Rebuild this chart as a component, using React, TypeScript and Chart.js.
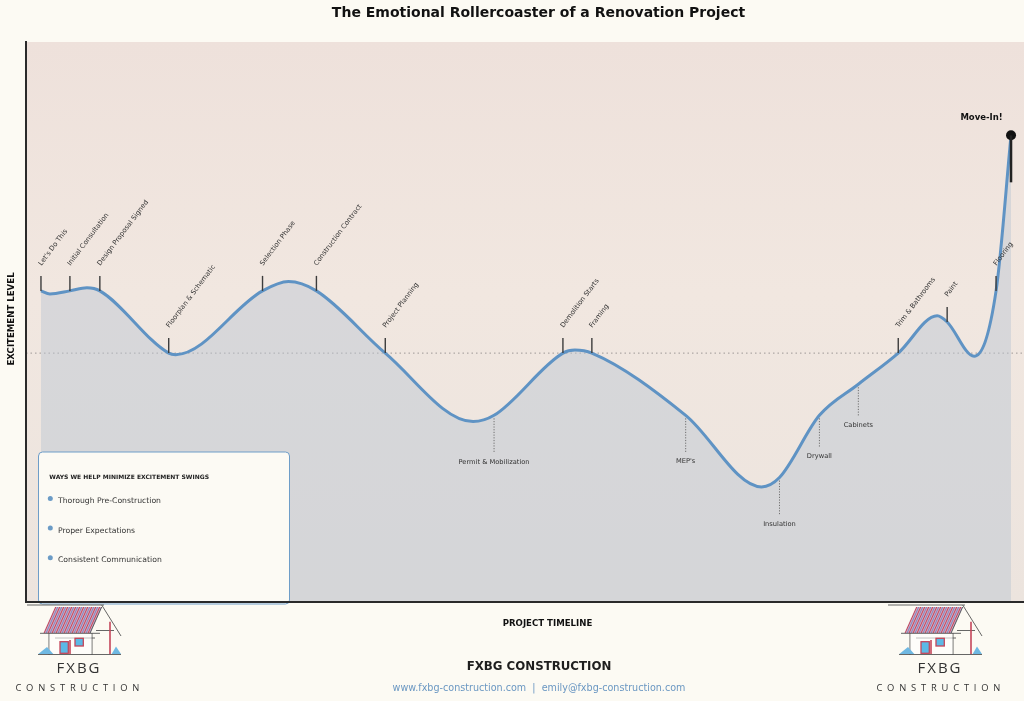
import React, { useEffect, useRef } from "react";
import { Chart, registerables } from "chart.js";

Chart.register(...registerables);

// ---------- data ----------
const chartTitle = "The Emotional Rollercoaster of a Renovation Project";
const yAxisTitle = "EXCITEMENT LEVEL";
const xAxisTitle = "PROJECT TIMELINE";

const milestones = [
  "Let's Do This",
  "Initial Consultation",
  "Design Proposal Signed",
  "Floorplan & Schematic",
  "Selection Phase",
  "Construction Contract",
  "Project Planning",
  "Permit & Mobilization",
  "Demolition Starts",
  "Framing",
  "MEP's",
  "Insulation",
  "Drywall",
  "Cabinets",
  "Trim & Bathrooms",
  "Paint",
  "Flooring",
  "Move-In!",
];
const milestoneWeek = [1.5, 4.4, 7.4, 14.3, 23.7, 29.1, 36.0, 46.9, 53.8, 56.7, 66.1, 75.5, 79.5, 83.4, 87.4, 92.3, 97.2, 98.7];
const milestoneLevel = [2, 2, 2, 0, 2, 2, 0, -2, 0, 0, -2, -4, -2, -1, 0, 1, 2, 7];
const belowCurveLabels = ["Permit & Mobilization", "MEP's", "Insulation", "Drywall", "Cabinets"];
const finalMilestone = "Move-In!";

// turning points of the curve between milestones
const bendWeek = [2.4, 6.1, 15.0, 26.3, 44.8, 55.0, 73.7, 91.3, 95.0];
const bendLevel = [1.9, 2.1, -0.05, 2.3, -2.2, 0.1, -4.3, 1.2, -0.1];

const legendTitle = "WAYS WE HELP MINIMIZE EXCITEMENT SWINGS";
const legendItems = ["Thorough Pre-Construction", "Proper Expectations", "Consistent Communication"];
const footerName = "FXBG CONSTRUCTION";
const footerContact = "www.fxbg-construction.com  |  emily@fxbg-construction.com";
const logoTop = "FXBG";
const logoBottom = "CONSTRUCTION";

const curvePoints = [
  ...milestoneWeek.map((x, i) => ({ x, y: milestoneLevel[i] })),
  ...bendWeek.map((x, i) => ({ x, y: bendLevel[i] })),
].sort((a, b) => a.x - b.x);

const milestonePoints = milestoneWeek.map((x, i) => ({ x, y: milestoneLevel[i] }));

// ---------- styling ----------
const FONT = '"DejaVu Sans", "Liberation Sans", sans-serif';
const LINE_BLUE = "#5f93c4";
const belowOffset: Record<string, number> = {
  "Permit & Mobilization": 47,
  "MEP's": 46,
  Insulation: 47,
  Drywall: 41,
  Cabinets: 41,
};

function drawLogo(ctx: CanvasRenderingContext2D, ox: number) {
  const X = (v: number) => v + ox;
  ctx.save();
  ctx.save();
  ctx.beginPath();
  ctx.moveTo(X(55), 607);
  ctx.lineTo(X(101.7), 607);
  ctx.lineTo(X(90), 633.3);
  ctx.lineTo(X(43.3), 633.3);
  ctx.closePath();
  ctx.fillStyle = "#cfa9bf";
  ctx.fill();
  ctx.clip();
  ctx.lineWidth = 1;
  for (let i = 0; i < 34; i++) {
    ctx.strokeStyle = i % 2 === 0 ? "#c4465a" : "#8088c4";
    const bx = X(40 + i * 2);
    ctx.beginPath();
    ctx.moveTo(bx + 11.7, 607);
    ctx.lineTo(bx, 633.3);
    ctx.stroke();
  }
  ctx.restore();
  ctx.strokeStyle = "#555";
  ctx.lineWidth = 0.9;
  const seg = (a: number, b: number, c: number, d: number) => {
    ctx.beginPath();
    ctx.moveTo(X(a), b);
    ctx.lineTo(X(c), d);
    ctx.stroke();
  };
  seg(27, 605, 104, 605);
  seg(101.7, 605, 121, 636);
  seg(101.7, 607, 90, 633.3);
  seg(40, 633.3, 100, 633.3);
  seg(96, 630.5, 114, 630.5);
  seg(49, 633, 49, 655);
  seg(92, 633, 92, 655);
  seg(38, 654.5, 121, 654.5);
  seg(55, 638, 95, 638);
  ctx.fillStyle = "rgba(255,255,255,0.6)";
  ctx.fillRect(X(49.5), 634, 42, 20);
  ctx.fillStyle = "#5cb9e6";
  ctx.fillRect(X(60), 641.7, 8.3, 11.6);
  ctx.fillRect(X(75), 638.3, 8.3, 7.7);
  ctx.strokeStyle = "#c4465a";
  ctx.lineWidth = 1.3;
  ctx.strokeRect(X(60), 641.7, 8.3, 11.6);
  ctx.strokeRect(X(75), 638.3, 8.3, 7.7);
  ctx.lineWidth = 1.6;
  seg(110, 621.7, 110, 654);
  seg(70, 640, 70, 654);
  ctx.fillStyle = "#6fb8e2";
  ctx.beginPath();
  ctx.moveTo(X(38.3), 654);
  ctx.lineTo(X(47), 647);
  ctx.lineTo(X(53.3), 654);
  ctx.closePath();
  ctx.fill();
  ctx.beginPath();
  ctx.moveTo(X(111.7), 654);
  ctx.lineTo(X(116), 646.5);
  ctx.lineTo(X(121), 654);
  ctx.closePath();
  ctx.fill();
  ctx.fillStyle = "#333";
  ctx.textAlign = "center";
  ctx.textBaseline = "middle";
  (ctx as any).letterSpacing = "2px";
  ctx.font = `15px "Open Sans", ${FONT}`;
  ctx.fillText(logoTop, X(79), 669);
  (ctx as any).letterSpacing = "4.8px";
  ctx.font = `9.4px "Open Sans", ${FONT}`;
  ctx.fillText(logoBottom, X(79.8), 688);
  (ctx as any).letterSpacing = "0px";
  ctx.restore();
}

const decorPlugin = {
  id: "decor",
  beforeDraw(chart: any) {
    const { ctx, chartArea: a, width, height } = chart;
    ctx.save();
    ctx.fillStyle = "#fcfaf3";
    ctx.fillRect(0, 0, width, height);
    const g = ctx.createLinearGradient(0, a.top, 0, a.bottom);
    g.addColorStop(0, "#eee1db");
    g.addColorStop(0.45, "#f1e7e0");
    g.addColorStop(1, "#ece4de");
    ctx.fillStyle = g;
    ctx.fillRect(a.left, a.top, a.right - a.left, a.bottom - a.top);
    const y0 = chart.scales.y.getPixelForValue(0);
    ctx.setLineDash([1.5, 3]);
    ctx.strokeStyle = "#9e9896";
    ctx.lineWidth = 1;
    ctx.beginPath();
    ctx.moveTo(a.left, y0);
    ctx.lineTo(a.right, y0);
    ctx.stroke();
    ctx.restore();
  },
  afterDatasetsDraw(chart: any) {
    const { ctx } = chart;
    const meta = chart.getDatasetMeta(1);
    ctx.save();
    milestones.forEach((name, i) => {
      const p = meta.data[i];
      const px = p.x;
      const py = p.y;
      if (name === finalMilestone) {
        ctx.strokeStyle = "#222";
        ctx.lineWidth = 2.5;
        ctx.beginPath();
        ctx.moveTo(px, py);
        ctx.lineTo(px, py + 47);
        ctx.stroke();
        ctx.fillStyle = "#111";
        ctx.font = `bold 8.5px ${FONT}`;
        ctx.textAlign = "center";
        ctx.textBaseline = "middle";
        ctx.fillText(name, px - 29.5, py - 18);
        return;
      }
      if (belowCurveLabels.includes(name)) {
        const off = belowOffset[name] ?? 46;
        ctx.strokeStyle = "#6f6f6f";
        ctx.lineWidth = 1;
        ctx.setLineDash([1.2, 1.5]);
        ctx.beginPath();
        ctx.moveTo(px, py + 3);
        ctx.lineTo(px, py + off - 9);
        ctx.stroke();
        ctx.setLineDash([]);
        ctx.fillStyle = "#333";
        ctx.font = `6.7px ${FONT}`;
        ctx.textAlign = "center";
        ctx.textBaseline = "middle";
        ctx.fillText(name, px, py + off);
        return;
      }
      ctx.strokeStyle = "#3c3c3c";
      ctx.lineWidth = 1.4;
      ctx.beginPath();
      ctx.moveTo(px, py - 15);
      ctx.lineTo(px, py);
      ctx.stroke();
      ctx.save();
      ctx.translate(px + 0.5, py - 25);
      ctx.rotate((-53 * Math.PI) / 180);
      ctx.fillStyle = "#333";
      ctx.font = `6.8px ${FONT}`;
      ctx.textAlign = "left";
      ctx.textBaseline = "alphabetic";
      ctx.fillText(name, 0, 0);
      ctx.restore();
    });
    ctx.restore();
  },
  afterDraw(chart: any) {
    const { ctx, chartArea: a } = chart;
    ctx.save();
    const bx = 38.5, by = 452, bw = 251, bh = 152;
    ctx.beginPath();
    ctx.roundRect(bx, by, bw, bh, 4);
    ctx.fillStyle = "#fcfaf4";
    ctx.fill();
    ctx.strokeStyle = "#6e9dc8";
    ctx.lineWidth = 1;
    ctx.stroke();
    ctx.fillStyle = "#222";
    ctx.font = `bold 6px ${FONT}`;
    ctx.textAlign = "left";
    ctx.textBaseline = "middle";
    ctx.fillText(legendTitle, 49.3, 477.5);
    legendItems.forEach((t, i) => {
      const yy = 501 + i * 29.6;
      ctx.fillStyle = "#6b9bc6";
      ctx.beginPath();
      ctx.arc(50.3, yy - 2.5, 2.5, 0, Math.PI * 2);
      ctx.fill();
      ctx.fillStyle = "#333";
      ctx.font = `7.7px ${FONT}`;
      ctx.fillText(t, 58, yy);
    });
    ctx.strokeStyle = "#2a2a2a";
    ctx.lineWidth = 2;
    ctx.beginPath();
    ctx.moveTo(a.left, a.top - 1);
    ctx.lineTo(a.left, a.bottom);
    ctx.lineTo(a.right, a.bottom);
    ctx.stroke();
    ctx.fillStyle = "#111";
    ctx.textAlign = "center";
    ctx.textBaseline = "middle";
    ctx.font = `bold 14px ${FONT}`;
    ctx.fillText(chartTitle, 538.5, 13);
    ctx.font = `bold 8.6px ${FONT}`;
    ctx.fillText(xAxisTitle, 547.5, 624);
    ctx.save();
    ctx.translate(12, 319);
    ctx.rotate(-Math.PI / 2);
    ctx.fillText(yAxisTitle, 0, 0);
    ctx.restore();
    ctx.fillStyle = "#1e1e1e";
    ctx.font = `bold 11.8px ${FONT}`;
    ctx.fillText(footerName, 539, 667);
    ctx.fillStyle = "#6a97c2";
    ctx.font = `9.6px ${FONT}`;
    ctx.fillText(footerContact, 539, 688);
    ctx.restore();
    drawLogo(ctx, 0);
    drawLogo(ctx, 861);
  },
};

export default function App() {
  const canvasRef = useRef<HTMLCanvasElement | null>(null);
  useEffect(() => {
    if (!canvasRef.current) return;
    const chart = new Chart(canvasRef.current, {
      type: "line",
      data: {
        datasets: [
          {
            label: "Excitement",
            data: curvePoints,
            borderColor: LINE_BLUE,
            borderWidth: 3,
            cubicInterpolationMode: "monotone",
            fill: "start",
            backgroundColor: "rgba(186,198,210,0.47)",
            pointRadius: 0,
            order: 2,
          },
          {
            label: "Milestones",
            data: milestonePoints,
            showLine: false,
            pointRadius: milestones.map((m) => (m === finalMilestone ? 5 : 0)),
            pointBackgroundColor: "#111",
            pointBorderWidth: 0,
            fill: false,
            order: 1,
          },
        ],
      },
      options: {
        animation: false,
        responsive: false,
        devicePixelRatio: 1,
        layout: { autoPadding: false, padding: { left: 26, top: 42, right: 0, bottom: 99 } },
        scales: {
          x: { type: "linear", min: 0, max: 100, display: false },
          y: { type: "linear", min: -8, max: 10, display: false },
        },
        plugins: {
          legend: { display: false },
          title: { display: false },
          tooltip: { enabled: false },
        },
      },
      plugins: [decorPlugin],
    });
    return () => chart.destroy();
  }, []);
  return (
    <div style={{ position: "fixed", left: 0, top: 0, width: 1024, height: 701 }}>
      <canvas ref={canvasRef} width={1024} height={701} style={{ display: "block" }} />
    </div>
  );
}
